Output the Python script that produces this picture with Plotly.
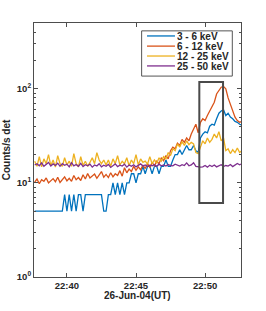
import pandas as pd
import plotly.graph_objects as go

# 10-s samples starting 22:37:40 on 26-Jun-2004
t_start = "2004-06-26 22:37:40"
labels = ["3 - 6 keV", "6 - 12 keV", "12 - 25 keV", "25 - 50 keV"]
colors = ["#0072BD", "#D95319", "#EDB120", "#7E2F8E"]

ch_3_6 = [5, 5, 5, 5, 5, 5, 5, 5, 5, 5,
          5, 5, 5, 7.5, 5, 7.5, 5, 7.5, 5, 7.5,
          7.5, 5, 7.5, 7.5, 7.5, 7.5, 7.5, 7.5, 7.5, 7.5,
          5, 5, 7.5, 7.5, 10, 7.5, 10, 7.5, 10, 7.5,
          10, 10, 12.5, 12.5, 10, 12.5, 12.5, 15, 12.5, 15,
          15, 12.5, 15, 15, 12.5, 15, 15, 17.5, 15, 15,
          17.5, 20, 20, 22.5, 20, 22.5, 25, 22.5, 22.5, 25,
          22, 21, 30, 33, 35, 34, 40, 42, 41, 48,
          55, 58, 60, 52, 55, 50, 48, 45, 44, 42,
          41]
ch_6_12 = [10.2, 11, 9.8, 10.8, 10.4, 11.3, 10, 10.6, 11.1, 10.3,
           11.5, 10.1, 10.9, 11.6, 10.5, 11.2, 10.4, 12, 10.8, 11.4,
           10.6, 12.2, 11, 12.6, 11.3, 11.8, 12.4, 11.2, 12, 13.2,
           11.5, 12.3, 11.4, 12.8, 11.6, 12.5, 12, 13.5, 11.8, 14.5,
           12.8, 14, 13.2, 15, 13.6, 14.8, 13.8, 15.5, 14.2, 16,
           14.6, 16.5, 15.2, 17, 16, 18.5, 17.2, 19.5, 18, 22,
           24, 23, 26.5, 25, 29, 27, 30, 28, 33, 38,
           42, 34, 44, 48, 46, 52, 58, 66, 72, 88,
           96, 104, 106, 100, 80, 68, 57, 50, 46, 44,
           45]
ch_12_25 = [17, 15, 19, 14.8, 18, 16, 20, 15.2, 17.5, 14.7,
            19.5, 16, 15, 18.5, 15.5, 17, 15, 20.5, 16, 14.8,
            19, 15.3, 17, 15, 16.5, 18.5, 16, 21, 17.5, 16,
            17.5, 15.5, 17.5, 15, 18, 16, 19.5, 15.5, 17, 16,
            18.5, 15.2, 17.5, 16, 20, 15.5, 18, 16.5, 17, 15.8,
            19, 16, 17.5, 16.2, 18.5, 17, 19, 18, 21, 19.5,
            23, 22, 26, 24, 27.5, 25, 28, 25.5, 27, 26,
            21, 20.5, 24, 28, 26, 30, 27, 29, 33, 30,
            35, 28, 30, 22, 23, 20.5, 22.5, 21, 23.5, 21,
            22]
ch_25_50 = [15.5, 16, 15.2, 16.3, 15, 15.8, 16.5, 15.1, 15.9, 15.3,
            16.2, 15, 16, 15.4, 15.8, 14.8, 16.4, 15.2, 15.7, 15,
            16.1, 14.9, 15.6, 15.2, 15.8, 14.7, 15.5, 15.1, 16, 14.8,
            15.4, 15, 15.7, 14.6, 15.3, 15.9, 14.9, 15.4, 15.1, 15.8,
            14.7, 15.5, 15, 15.6, 14.8, 15.3, 15.9, 15.1, 15.5, 14.9,
            15.4, 15.2, 15.6, 15, 15.8, 15.2, 15.5, 15.1, 15.7, 15.3,
            15.2, 15.8, 15.4, 15.1, 15.6, 15.3, 16.3, 15.2, 15.5, 16.4,
            15, 14.8, 14.7, 14.8, 15.3, 14.7, 15.4, 14.9, 15.5, 14.8,
            15.2, 15.6, 14.9, 15.3, 15.1, 15.7, 14.9, 15.5, 16.1, 15.6,
            16]
series = [ch_3_6, ch_6_12, ch_12_25, ch_25_50]

x_ticks = ["2004-06-26 22:40:00", "2004-06-26 22:45:00", "2004-06-26 22:50:00"]
x_ticktext = ["22:40", "22:45", "22:50"]
x_range = ["2004-06-26 22:37:37", "2004-06-26 22:52:36"]
x_title = "26-Jun-04(UT)"
y_ticks = [1, 10, 100]
y_ticktext = ["10<sup>0</sup>", "10<sup>1</sup>", "10<sup>2</sup>"]
y_minor = [m * d for d in (1, 10, 100) for m in range(2, 10) if m * d <= 500]

# highlight box (time window and count range)
box_t0, box_t1 = "2004-06-26 22:49:35", "2004-06-26 22:51:18"
box_lo, box_hi = 6.1, 118

times = pd.date_range(t_start, periods=len(ch_3_6), freq="10s")

fig = go.Figure()
for name, vals, c in zip(labels, series, colors):
    fig.add_trace(go.Scatter(x=times, y=vals, mode="lines", name=name,
                             line=dict(color=c, width=1.3), showlegend=False))

fig.add_shape(type="rect", xref="x", yref="y", x0=box_t0, x1=box_t1,
              y0=box_lo, y1=box_hi, line=dict(color="#4a4a4a", width=2))

font = dict(family="Liberation Sans, Arial, sans-serif", size=10,
            color="#262626", weight="bold")
tick_font = dict(family="Liberation Sans, Arial, sans-serif", size=9.5,
                 color="#262626", weight="bold")

# legend drawn as a boxed key
fig.add_shape(type="rect", xref="paper", yref="paper", x0=0.520, x1=0.958,
              y0=0.791, y1=0.969, line=dict(color="#555555", width=1),
              fillcolor="white", layer="above")
rows = [0.949, 0.909, 0.870, 0.831]
for name, c, ry in zip(labels, colors, rows):
    fig.add_shape(type="line", xref="paper", yref="paper", x0=0.546, x1=0.681,
                  y0=ry, y1=ry, line=dict(color=c, width=1.3), layer="above")
    fig.add_annotation(xref="paper", yref="paper", x=0.688, y=ry, text=name,
                       showarrow=False, xanchor="left", yanchor="middle",
                       height=10, borderpad=0, font=font)

# x-axis title placed close under the tick labels
fig.add_annotation(xref="paper", yref="paper", x=0.5, y=-0.072, text=x_title,
                   showarrow=False, xanchor="center", yanchor="middle",
                   height=11, borderpad=0, font=font)

axis_common = dict(showgrid=False, zeroline=False, showline=True,
                   linecolor="#4d4d4d", linewidth=1, mirror="ticks",
                   ticks="inside", ticklen=4, tickcolor="#4d4d4d",
                   tickfont=tick_font, automargin=False)
fig.update_xaxes(type="date", range=x_range, tickvals=x_ticks,
                 ticktext=x_ticktext, **axis_common)
fig.update_yaxes(type="log", range=[0, 2.699], tickvals=y_ticks,
                 ticktext=y_ticktext,
                 title=dict(text="Counts/s det", font=font, standoff=4),
                 minor=dict(tickvals=y_minor, ticks="inside", ticklen=2,
                            tickcolor="#4d4d4d"),
                 **axis_common)
fig.update_layout(width=266, height=311,
                  margin=dict(l=34, r=25, t=23, b=34),
                  plot_bgcolor="white", paper_bgcolor="white",
                  font=font)
fig.write_html("out.html", config={"displayModeBar": False},
               post_script="document.body.style.margin='0';"
                           "document.body.style.overflow='hidden';")
